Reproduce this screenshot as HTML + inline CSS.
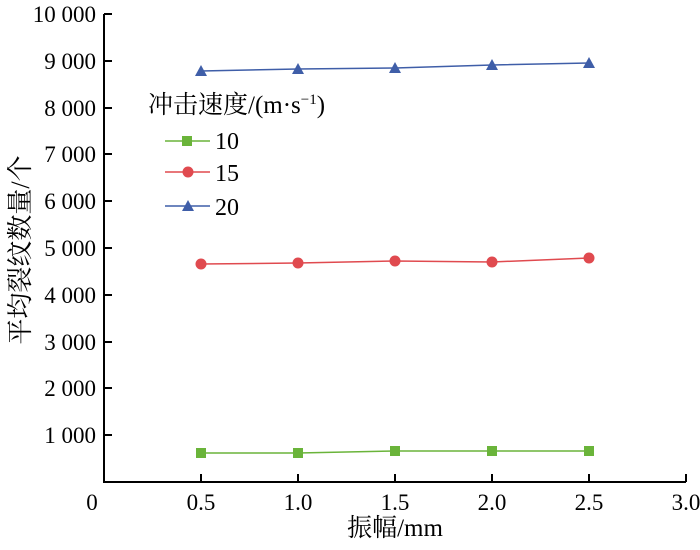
<!DOCTYPE html>
<html><head><meta charset="utf-8"><style>body{margin:0;background:#fff}</style></head><body>
<svg width="700" height="545" xmlns="http://www.w3.org/2000/svg" font-family="Liberation Serif, Noto Serif CJK SC, serif" font-size="23">
<g stroke="#000" stroke-width="2" fill="none">
<path d="M104,14 V482 H686"/>
<path d="M104,14h8M104,61h8M104,108h8M104,154h8M104,201h8M104,248h8M104,295h8M104,342h8M104,388h8M104,435h8"/>
<path d="M201,482v-8M298,482v-8M395,482v-8M492,482v-8M589,482v-8M686,482v-8"/>
</g>
<g text-anchor="end" fill="#000">
<text x="96" y="22">10 000</text><text x="96" y="69">9 000</text><text x="96" y="116">8 000</text><text x="96" y="162">7 000</text><text x="96" y="209">6 000</text><text x="96" y="256">5 000</text><text x="96" y="303">4 000</text><text x="96" y="350">3 000</text><text x="96" y="396">2 000</text><text x="96" y="443">1 000</text>
</g>
<g text-anchor="middle" fill="#000">
<text x="92" y="510">0</text><text x="201" y="510">0.5</text><text x="298" y="510">1.0</text><text x="395" y="510">1.5</text><text x="492" y="510">2.0</text><text x="589" y="510">2.5</text><text x="686" y="510">3.0</text>
<text x="395" y="536" font-size="25">振幅/mm</text>
<text transform="translate(29,250) rotate(-90)" font-size="26">平均裂纹数量/个</text>
</g>
<polyline points="201,453 298,453 395,451 492,451 589,451" stroke="#6ab43a" stroke-width="1.5" fill="none"/>
<g fill="#6ab43a"><rect x="196" y="448" width="10" height="10"/><rect x="293" y="448" width="10" height="10"/><rect x="390" y="446" width="10" height="10"/><rect x="487" y="446" width="10" height="10"/><rect x="584" y="446" width="10" height="10"/></g>
<polyline points="201,264 298,263 395,261 492,262 589,258" stroke="#e04a4f" stroke-width="1.5" fill="none"/>
<g fill="#e04a4f"><circle cx="201" cy="264" r="5.5"/><circle cx="298" cy="263" r="5.5"/><circle cx="395" cy="261" r="5.5"/><circle cx="492" cy="262" r="5.5"/><circle cx="589" cy="258" r="5.5"/></g>
<polyline points="201,71 298,69 395,68 492,65 589,63" stroke="#3f5ea8" stroke-width="1.5" fill="none"/>
<g fill="#3f5ea8"><path d="M201,65l6,11h-12z"/><path d="M298,63l6,11h-12z"/><path d="M395,62l6,11h-12z"/><path d="M492,59l6,11h-12z"/><path d="M589,57l6,11h-12z"/></g>
<text x="148" y="113" font-size="25">冲击速度/(m·s<tspan dy="-9" font-size="15">−1</tspan><tspan dy="9">)</tspan></text>
<path d="M165,141h45" stroke="#6ab43a" stroke-width="1.5"/><rect x="182" y="136" width="10" height="10" fill="#6ab43a"/>
<path d="M165,172h45" stroke="#e04a4f" stroke-width="1.5"/><circle cx="188" cy="172" r="5.5" fill="#e04a4f"/>
<path d="M165,206h45" stroke="#3f5ea8" stroke-width="1.5"/><path d="M188,200l6,11h-12z" fill="#3f5ea8"/>
<text x="215" y="149" font-size="24">10</text><text x="215" y="181" font-size="24">15</text><text x="215" y="215" font-size="24">20</text>
</svg>
</body></html>
